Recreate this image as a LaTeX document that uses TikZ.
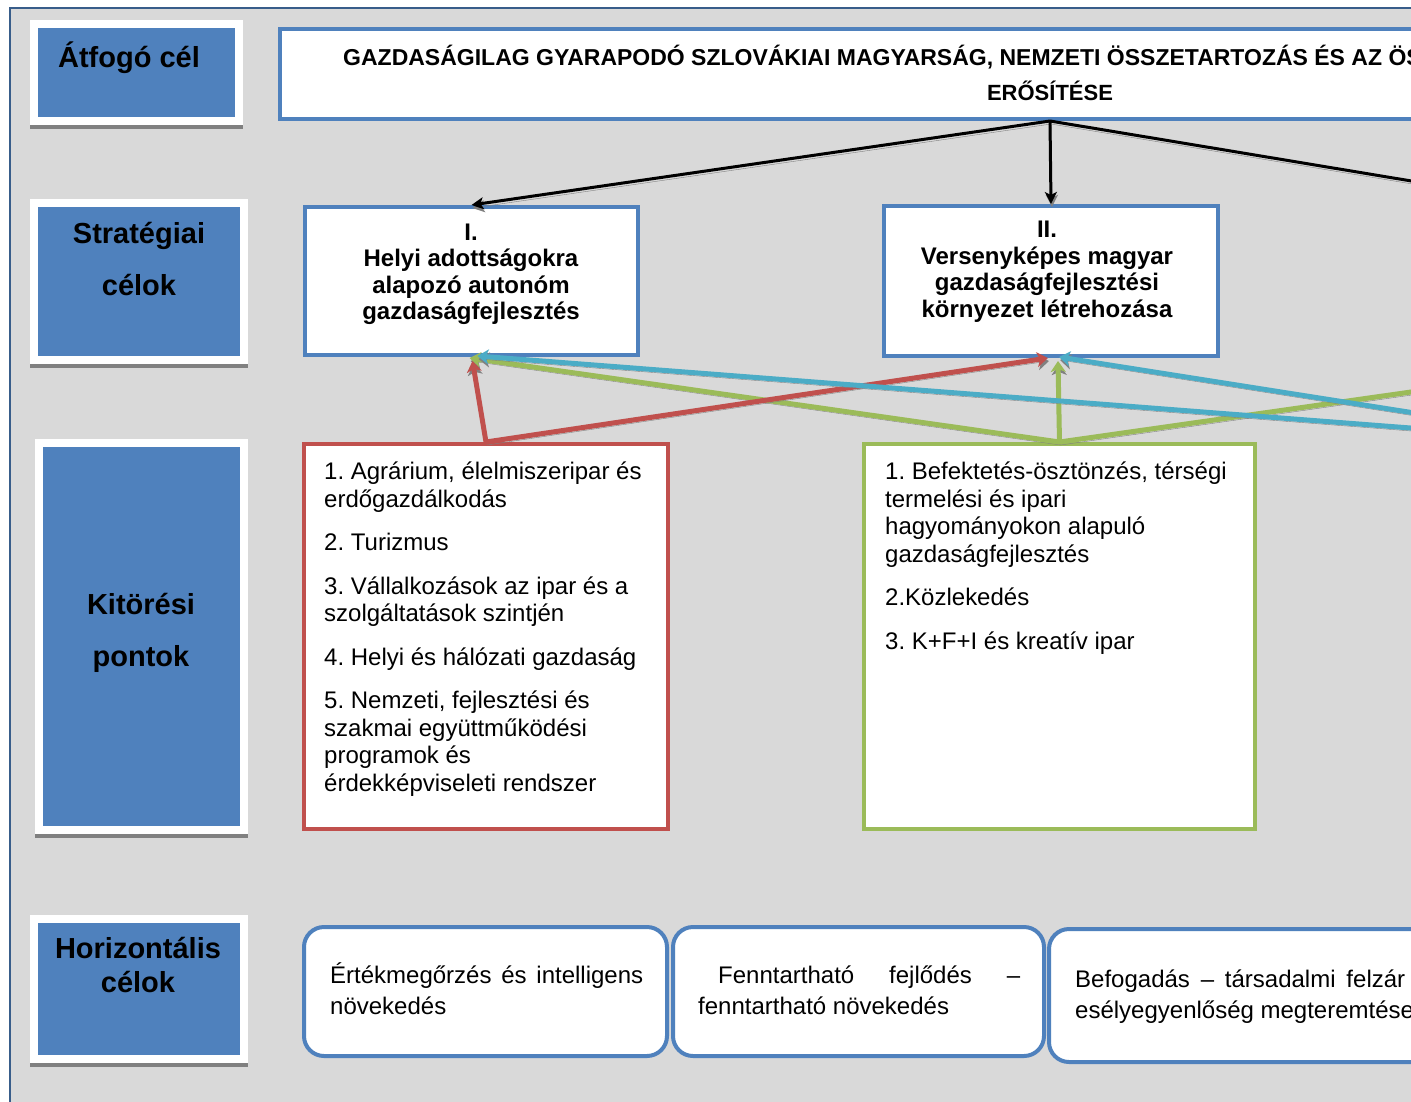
\documentclass[tikz,border=0pt]{standalone}
\usepackage{fontspec}
\setmainfont{Liberation Sans}
\usetikzlibrary{arrows.meta,positioning}
\definecolor{lblue}{RGB}{79,129,189}
\definecolor{bggray}{RGB}{217,217,217}
\definecolor{fblue}{RGB}{56,93,138}
\definecolor{shgray}{RGB}{128,128,128}
\definecolor{kred}{RGB}{192,80,77}
\definecolor{kgreen}{RGB}{155,187,89}
\definecolor{kcyan}{RGB}{75,172,198}
\frenchspacing
\newcommand{\lblfont}{\fontsize{29}{52}\selectfont\bfseries}
\newcommand{\ttlfont}{\fontsize{22}{35}\selectfont\bfseries}
\newcommand{\strfont}{\fontsize{24}{26.5}\selectfont\bfseries}
\newcommand{\bodyfont}{\fontsize{24}{27.5}\selectfont}
\newcommand{\horfont}{\fontsize{24}{31}\selectfont}
\tikzset{
  shd/.style={preaction={draw=shgray, transform canvas={xshift=1pt, yshift=-3pt}}},
  lbox/.style={fill=lblue, draw=white, line width=8pt, inner sep=0pt,
    preaction={draw=shgray, transform canvas={yshift=-4pt}}},
  ltxt/.style={font=\lblfont, align=center, anchor=base, inner sep=0pt},
  sbox/.style={fill=white, draw=lblue, line width=4pt, inner sep=0pt},
  stxt/.style={font=\strfont, align=center, anchor=base, inner sep=0pt},
  kbox/.style={fill=white, line width=4pt, inner sep=0pt},
  ktxt/.style={font=\bodyfont, align=left, anchor=base west, inner sep=0pt},
  hbox/.style={fill=white, draw=lblue, line width=4pt, rounded corners=20pt, inner sep=0pt},
  htxt/.style={font=\horfont, align=left, anchor=base west, inner sep=0pt},
  sarr/.style={-{Stealth[length=12pt, width=12pt, inset=3pt]}, line width=3pt, black, shd},
  karr/.style={-{Stealth[length=11pt, width=15pt, inset=3pt]}, line width=5pt, shd},
}

\begin{document}
\begin{tikzpicture}[x=1pt, y=-1pt]
\useasboundingbox (0,0) rectangle (1411,1101);
\clip (0,0) rectangle (1411,1101);
% background and frame
\fill[white] (0,0) rectangle (1411,1101);
\fill[bggray] (10,8) rectangle (1430,1120);
\draw[fblue, line width=2pt] (10,1120) -- (10,8) -- (1430,8);

% row labels (multi-line texts sit on their last baseline)
\node[lbox, minimum width=205pt, minimum height=97pt] (lcel) at (136.5,72.5) {};
\node[ltxt] (lcelt) at (129,67) {Átfogó cél};
\node[lbox, minimum width=210pt, minimum height=157pt] (lstr) at (139,281.5) {};
\node[ltxt] (lstrt) at (139,295) {Stratégiai\\célok};
\node[lbox, minimum width=205pt, minimum height=387pt] (lkit) at (141.5,636.5) {};
\node[ltxt] (lkitt) at (141,666) {Kitörési\\pontok};
\node[lbox, minimum width=210pt, minimum height=140pt] (lhor) at (139,989) {};
\node[ltxt, font=\fontsize{29}{34}\selectfont\bfseries] (lhort) at (138,992) {Horizontális\\célok};

% overall goal
\node[sbox, minimum width=1540pt, minimum height=90pt] (cel) at (1050,74) {};
\node[font=\fontsize{23}{35}\selectfont\bfseries, anchor=base west, inner sep=0pt] (celt1) at (343,65)
  {GAZDASÁGILAG GYARAPODÓ SZLOVÁKIAI MAGYARSÁG, NEMZETI ÖSSZETARTOZÁS ÉS AZ ÖS};
\node[font=\ttlfont, anchor=base, inner sep=0pt] (celt2) at (1050,100) {ERŐSÍTÉSE};

% strategic goals
\node[sbox, minimum width=333pt, minimum height=148pt] (s1) at (471.5,281) {};
\node[stxt] (s1t) at (471,319.5) {I.\\Helyi adottságokra\\alapozó autonóm\\gazdaságfejlesztés};
\node[sbox, minimum width=334pt, minimum height=150pt] (s2) at (1051,281) {};
\node[stxt] (s2t) at (1047,317) {II.\\Versenyképes magyar\\gazdaságfejlesztési\\környezet létrehozása};
\coordinate (s3top) at (1550,204);
\coordinate (s3bot) at (1657,357);

% breakout points
\node[kbox, draw=kred, minimum width=364pt, minimum height=385pt] (k1) at (486,636.5) {};
\node[ktxt] (k1t) at (324,791) {1. Agrárium, élelmiszeripar és\\erdőgazdálkodás\\[16pt]
  2. Turizmus\\[16pt]
  3. Vállalkozások az ipar és a\\szolgáltatások szintjén\\[16pt]
  4. Helyi és hálózati gazdaság\\[16pt]
  5. Nemzeti, fejlesztési és\\szakmai együttműködési\\programok és\\érdekképviseleti rendszer};
\node[kbox, draw=kgreen, minimum width=391pt, minimum height=385pt] (k2) at (1059.5,636.5) {};
\node[ktxt] (k2t) at (885,649) {1. Befektetés-ösztönzés, térségi\\termelési és ipari\\hagyományokon alapuló\\gazdaságfejlesztés\\[16pt]
  2.Közlekedés\\[16pt]
  3. K+F+I és kreatív ipar};
\coordinate (k3top) at (1605,443);

% horizontal goals
\node[hbox, minimum width=363pt, minimum height=129pt] (h1) at (485.5,991.5) {};
\node[htxt] (h1t) at (330,1014) {\makebox[313pt][s]{Értékmegőrzés és intelligens}\\növekedés};
\node[hbox, minimum width=371pt, minimum height=129pt] (h2) at (858.5,991.5) {};
\node[htxt] (h2t) at (698,1014) {\hspace*{20pt}\makebox[302pt][s]{Fenntartható fejlődés –}\\fenntartható növekedés};
\node[hbox, minimum width=420pt, minimum height=133pt] (h3) at (1259,995.5) {};
\node[htxt] (h3t) at (1075,1018) {\makebox[330pt][s]{Befogadás – társadalmi felzár}\\esélyegyenlőség megteremtése};

% connectors
\draw[sarr] (cel.south) -- (s1.north);
\draw[sarr] (cel.south) -- (s2.north);
\draw[sarr] (cel.south) -- (s3top);
\draw[karr, kgreen] (k2.north) -- ([xshift=7pt, yshift=-3pt]s2.south);
\draw[karr, kgreen] (k2.north) -- ([xshift=-2pt, yshift=-1pt]s1.south);
\draw[karr, kgreen] (k2.north) -- (s3bot);
\draw[karr, kred] (k1.north) -- ([xshift=1pt, yshift=-4pt]s1.south);
\draw[karr, kred] (k1.north) -- ([xshift=-3pt]s2.south);
\draw[karr, kcyan] (k3top) -- ([xshift=6pt, yshift=1pt]s1.south);
\draw[karr, kcyan] (k3top) -- ([xshift=8pt, yshift=1pt]s2.south);
\end{tikzpicture}
\end{document}
